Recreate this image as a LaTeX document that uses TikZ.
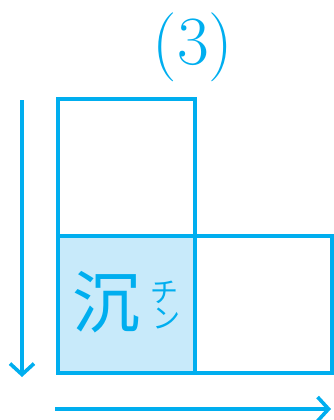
\documentclass[tikz,border=0pt]{standalone}
\usepackage{fontspec}
\newfontfamily\cjk{Noto Sans CJK JP}
\usetikzlibrary{arrows.meta,positioning}
\definecolor{KJcyan}{HTML}{00AEEF}
\definecolor{KJpale}{HTML}{C8EAFA}
\tikzset{
  cell/.style={draw=KJcyan, line width=4pt, minimum size=137pt, inner sep=0pt, outer sep=0pt},
  cellfill/.style={cell, fill=KJpale},
  dirarr/.style={draw=KJcyan, line width=3.6pt, -{Straight Barb[length=11pt, width=24pt, line width=3.6pt]}},
  kanji/.style={text=KJcyan, font=\cjk\fontsize{68}{68}\selectfont, inner sep=0pt},
  kana/.style={text=KJcyan, font=\cjk\fontsize{28}{26}\selectfont, inner sep=0pt, align=center},
  num/.style={text=KJcyan, font=\fontsize{69}{69}\selectfont, inner sep=0pt}
}
\begin{document}
\begin{tikzpicture}[x=1pt, y=-1pt]
\useasboundingbox (0,0) rectangle (333,420);
\node (top) [cell] at (126,167.5) {};
\node (low) [cellfill, below=0pt of top] {};
\node (side) [cell, right=0pt of low] {};
\node (title) [num] at (193,47) {(3)};
\node (char) [kanji] at (106,302) {沉};
\node (yomi) [kana] at (164,305) {チ\\\hspace{5pt}ン};
\coordinate (vstart) at (22,100);
\coordinate (vend) at (22,377);
\coordinate (hstart) at (55,409);
\coordinate (hend) at (331,409);
\draw[dirarr] (vstart) -- (vend);
\draw[dirarr] (hstart) -- (hend);
\end{tikzpicture}
\end{document}
